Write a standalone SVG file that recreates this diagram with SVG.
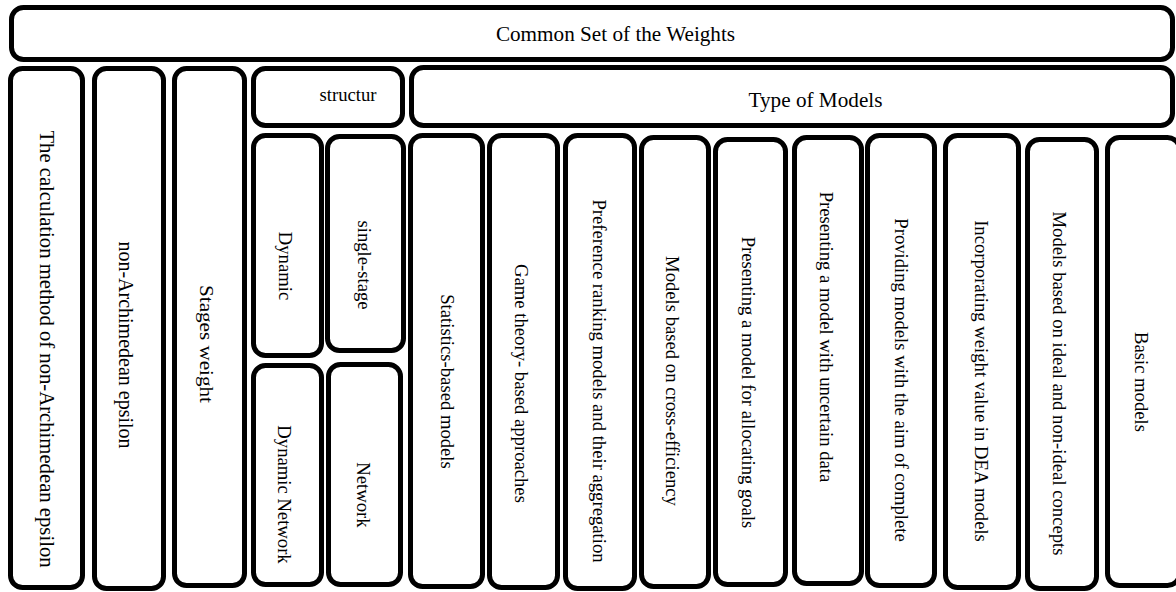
<svg xmlns="http://www.w3.org/2000/svg" width="1176" height="592" viewBox="0 0 1176 592">
<style>
  .box { fill: #ffffff; stroke: #000000; stroke-width: 5; }
  .t { font-family: "Liberation Serif", "Times New Roman", serif; fill: #000000; text-anchor: middle; }
  .s14 { font-size: 18.67px; }
  .s16 { font-size: 21.2px; }
</style>
<rect x="0" y="0" width="1176" height="592" fill="#ffffff"/>
<g id="connectors"/>
<g id="common-set">
  <rect class="box" x="11.5" y="7.5" width="1161" height="52" rx="12"/>
  <text class="t s16" x="615.5" y="41">Common Set of the Weights</text>
</g>
<g id="calc-epsilon">
  <rect class="box" x="10.5" y="68.5" width="72" height="519" rx="12"/>
  <text class="t" font-size="20.7" transform="translate(40,349) rotate(90)">The calculation method of non-Archimedean epsilon</text>
</g>
<g id="non-archimedean">
  <rect class="box" x="94.5" y="68.5" width="69" height="520" rx="12"/>
  <text class="t" font-size="20" transform="translate(118.5,345) rotate(90)">non-Archimedean epsilon</text>
</g>
<g id="stages-weight">
  <rect class="box" x="174.5" y="68.5" width="70" height="517" rx="12"/>
  <text class="t" font-size="18" textLength="118" lengthAdjust="spacingAndGlyphs" transform="translate(199.5,344) rotate(90)">Stages weight</text>
</g>
<g id="structur">
  <rect class="box" x="253.5" y="68.5" width="149" height="57" rx="12"/>
  <text class="t s14" x="348" y="101">structur</text>
</g>
<g id="dynamic">
  <rect class="box" x="253.5" y="135.5" width="68" height="220" rx="12"/>
  <text class="t s14" transform="translate(278.5,266) rotate(90)">Dynamic</text>
</g>
<g id="single-stage">
  <rect class="box" x="327.5" y="136.5" width="76" height="214" rx="12"/>
  <text class="t s14" transform="translate(357.5,265) rotate(90)">single-stage</text>
</g>
<g id="dynamic-network">
  <rect class="box" x="253.5" y="365.5" width="68" height="219" rx="12"/>
  <text class="t s14" transform="translate(278,494.5) rotate(90)">Dynamic Network</text>
</g>
<g id="network">
  <rect class="box" x="328.5" y="364.5" width="72" height="220" rx="12"/>
  <text class="t s14" transform="translate(357,495) rotate(90)">Network</text>
</g>
<g id="type-of-models">
  <rect class="box" x="411.5" y="67.5" width="761" height="58" rx="12"/>
  <text class="t s16" x="815.5" y="107">Type of Models</text>
</g>
<g id="statistics">
  <rect class="box" x="410.5" y="135.5" width="72" height="451" rx="12"/>
  <text class="t s14" transform="translate(440.5,381.5) rotate(90)">Statistics-based models</text>
</g>
<g id="game-theory">
  <rect class="box" x="489.5" y="135.5" width="68" height="452" rx="12"/>
  <text class="t s14" transform="translate(515,383.5) rotate(90)">Game theory- based approaches</text>
</g>
<g id="preference">
  <rect class="box" x="565.5" y="135.5" width="69" height="453" rx="12"/>
  <text class="t s14" transform="translate(593,381) rotate(90)">Preference ranking models and their aggregation</text>
</g>
<g id="cross-efficiency">
  <rect class="box" x="641.5" y="137.5" width="67" height="449" rx="12"/>
  <text class="t s14" transform="translate(666,381) rotate(90)">Models based on cross-efficiency</text>
</g>
<g id="allocating-goals">
  <rect class="box" x="715.5" y="139.5" width="70" height="445" rx="12"/>
  <text class="t s14" transform="translate(742,382.5) rotate(90)">Presenting a model for allocating goals</text>
</g>
<g id="uncertain-data">
  <rect class="box" x="794.5" y="137.5" width="67" height="446" rx="12"/>
  <text class="t s14" transform="translate(819.5,337) rotate(90)">Presenting a model with uncertain data</text>
</g>
<g id="complete">
  <rect class="box" x="867.5" y="135.5" width="67" height="450" rx="12"/>
  <text class="t s14" transform="translate(895,380) rotate(90)">Providing models with the aim of complete</text>
</g>
<g id="weight-value">
  <rect class="box" x="945.5" y="135.5" width="73" height="452" rx="12"/>
  <text class="t s14" transform="translate(975,381) rotate(90)">Incorporating weight value in DEA models</text>
</g>
<g id="ideal">
  <rect class="box" x="1027.5" y="139.5" width="69" height="449" rx="12"/>
  <text class="t s14" transform="translate(1053,383.5) rotate(90)">Models based on ideal and non-ideal concepts</text>
</g>
<g id="basic-models">
  <rect class="box" x="1107.5" y="137.5" width="72" height="448" rx="12"/>
  <text class="t s14" transform="translate(1135,382) rotate(90)">Basic models</text>
</g>
</svg>
